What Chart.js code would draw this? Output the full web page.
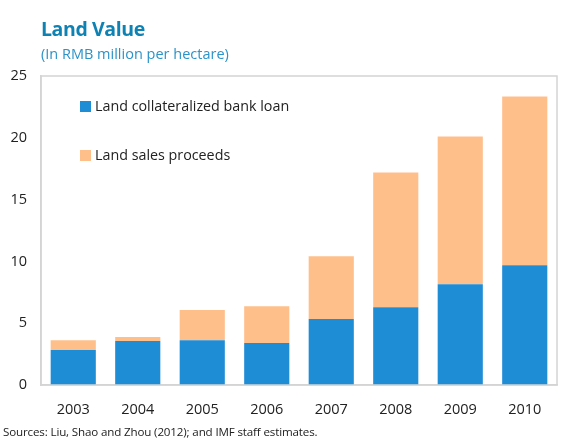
<!DOCTYPE html>
<html>
<head>
<meta charset="utf-8">
<script src="https://cdn.jsdelivr.net/npm/chart.js@4"></script>
<style>
  html, body { margin: 0; padding: 0; background: #fff; }
  #wrap { position: relative; width: 571px; height: 445px; font-family: "Open Sans", "Noto Sans", sans-serif; }
  #title { position: absolute; left: 41px; top: 17px; font-size: 19.5px; font-weight: 700; color: #0f82b4; letter-spacing: -0.4px; line-height: 1.2; }
  #subtitle { position: absolute; left: 41px; top: 45px; font-size: 14.5px; color: #2b93c8; letter-spacing: 0px; line-height: 1.2; }
  #source { position: absolute; left: 3px; top: 425px; font-size: 11.6px; color: #222; letter-spacing: -0.15px; line-height: 1.2; }
  canvas { position: absolute; left: 0; top: 0; }
</style>
</head>
<body>
<div id="wrap">
  <canvas id="c" width="571" height="445"></canvas>
  <div id="title">Land Value</div>
  <div id="subtitle">(In RMB million per hectare)</div>
  <div id="source">Sources: Liu, Shao and Zhou (2012); and IMF staff estimates.</div>
</div>
<script>
const years = ["2003", "2004", "2005", "2006", "2007", "2008", "2009", "2010"];
const bankLoan = [2.83, 3.55, 3.63, 3.39, 5.33, 6.30, 8.16, 9.69];
const salesProceeds = [0.80, 0.33, 2.43, 2.99, 5.09, 10.90, 11.95, 13.65];
const yTicks = [0, 5, 10, 15, 20, 25];

const FONT = '"Open Sans", "Noto Sans", sans-serif';

const boxAndLegend = {
  id: 'boxAndLegend',
  afterDraw(chart) {
    const ctx = chart.ctx;
    const a = chart.chartArea;
    ctx.save();
    ctx.strokeStyle = '#d4d4d4';
    ctx.lineWidth = 1.5;
    ctx.strokeRect(a.left, a.top, a.right - a.left, a.bottom - a.top);
    ctx.font = '14.3px ' + FONT;
    ctx.textBaseline = 'middle';
    const items = chart.data.datasets;
    const ys = [107, 156];
    items.forEach((ds, i) => {
      ctx.fillStyle = ds.backgroundColor;
      ctx.fillRect(80, ys[i] - 6, 11, 11);
      ctx.fillStyle = '#222';
      ctx.fillText(ds.label, 95, ys[i]);
    });
    ctx.restore();
  }
};

new Chart(document.getElementById('c'), {
  type: 'bar',
  data: {
    labels: years,
    datasets: [
      { label: 'Land collateralized bank loan', data: bankLoan, backgroundColor: '#1f8dd6', borderWidth: 0 },
      { label: 'Land sales proceeds', data: salesProceeds, backgroundColor: '#ffbf8b', borderWidth: 0 }
    ]
  },
  options: {
    responsive: false,
    animation: false,
    layout: { padding: { left: 0, top: 76, right: 14, bottom: 0 } },
    plugins: { legend: { display: false }, tooltip: { enabled: false }, title: { display: false } },
    datasets: { bar: { barPercentage: 0.7, categoryPercentage: 1.0 } },
    scales: {
      x: {
        stacked: true,
        grid: { display: false, drawTicks: false },
        border: { display: true, color: '#d4d4d4', width: 1.5 },
        ticks: { color: '#222', font: { family: FONT, size: 14.5 }, padding: 16, maxRotation: 0 },
        afterFit(s) { s.height = 60; }
      },
      y: {
        stacked: true,
        min: 0, max: 25,
        afterBuildTicks(s) { s.ticks = yTicks.map(v => ({ value: v })); },
        grid: { display: false, drawTicks: false },
        border: { display: true, color: '#d4d4d4', width: 1.5 },
        ticks: { color: '#222', font: { family: FONT, size: 14.5 }, padding: 14 },
        afterFit(s) { s.width = 41; }
      }
    }
  },
  plugins: [boxAndLegend]
});
</script>
</body>
</html>
